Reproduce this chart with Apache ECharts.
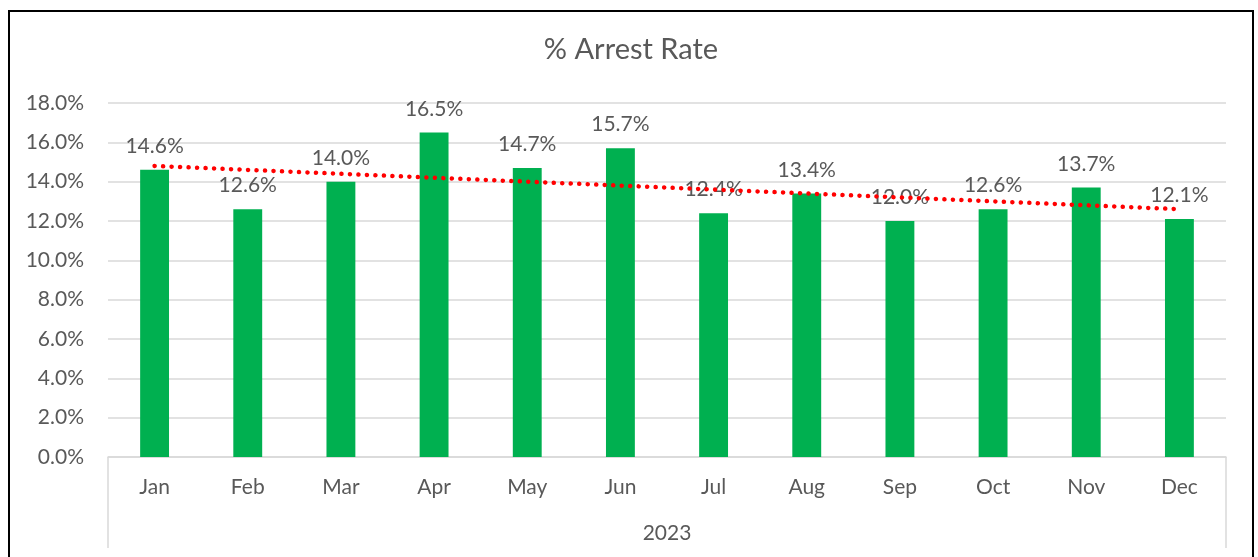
<!DOCTYPE html>
<html>
<head>
<meta charset="utf-8">
<script src="https://cdn.jsdelivr.net/npm/echarts@6/dist/echarts.min.js"></script>
<style>
  html, body { margin: 0; padding: 0; background: #fff; overflow: hidden; }
  #chart { position: absolute; left: 8px; top: 10px; width: 1242px; height: 600px; border: 2px solid #000; }
</style>
</head>
<body>
<div id="chart"></div>
<script>
var months = ['Jan', 'Feb', 'Mar', 'Apr', 'May', 'Jun', 'Jul', 'Aug', 'Sep', 'Oct', 'Nov', 'Dec'];
var years = ['2023'];
var arrestRate = [14.6, 12.6, 14.0, 16.5, 14.7, 15.7, 12.4, 13.4, 12.0, 12.6, 13.7, 12.1];
// linear trendline ends
var trendEnds = [14.8, 12.6];

var trendData = months.map(function (m, i) {
    if (i === 0) return trendEnds[0];
    if (i === months.length - 1) return trendEnds[1];
    return null;
});

var font = 'Lato, "Open Sans", sans-serif';
var grey = '#595959';

var myChart = echarts.init(document.getElementById('chart'));
myChart.setOption({
    animation: false,
    title: {
        text: '% Arrest Rate',
        left: 'center',
        top: 18,
        textStyle: { fontFamily: font, fontSize: 29, fontWeight: 'normal', color: grey }
    },
    grid: { left: 98, right: 26, top: 91, height: 354 },
    xAxis: [{
        type: 'category',
        data: months,
        axisLine: { lineStyle: { color: '#d9d9d9', width: 1.5 } },
        axisTick: { show: false },
        axisLabel: { fontFamily: font, fontSize: 21, color: grey, margin: 20 }
    }, {
        type: 'category',
        data: years,
        position: 'bottom',
        axisLine: { show: false },
        axisTick: { show: true, length: 91, lineStyle: { color: '#d9d9d9', width: 1.5 } },
        axisLabel: { fontFamily: font, fontSize: 21, color: grey, margin: 66 }
    }],
    yAxis: {
        type: 'value',
        min: 0,
        max: 18,
        interval: 2,
        axisLine: { show: false },
        axisTick: { show: false },
        splitLine: { lineStyle: { color: '#d9d9d9', width: 1.5 } },
        axisLabel: {
            fontFamily: font, fontSize: 21, color: grey, margin: 24,
            formatter: function (v) { return v.toFixed(1) + '%'; }
        }
    },
    series: [{
        type: 'bar',
        data: arrestRate,
        barWidth: '31%',
        itemStyle: { color: '#00b050' },
        label: {
            show: true,
            position: 'top',
            distance: 13,
            fontFamily: font,
            fontSize: 21,
            color: grey,
            formatter: function (p) { return p.value.toFixed(1) + '%'; }
        }
    }, {
        type: 'line',
        data: trendData,
        connectNulls: true,
        symbol: 'none',
        z: 5,
        lineStyle: { color: '#ff0000', width: 4.5, type: [0.1, 8.4], cap: 'round' }
    }]
});
</script>
</body>
</html>
